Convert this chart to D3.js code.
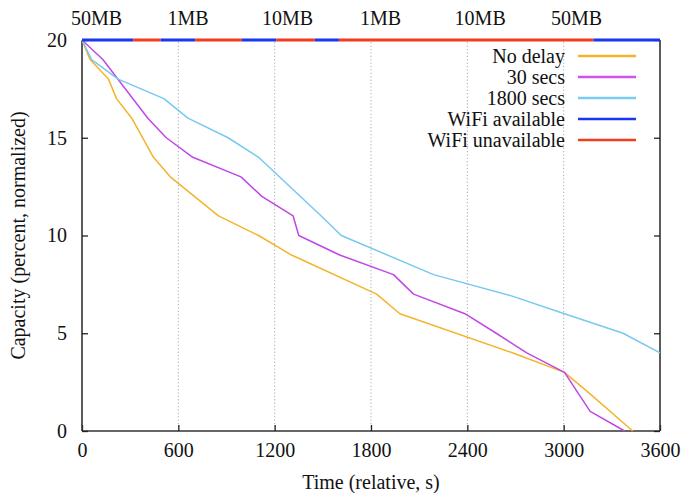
<!DOCTYPE html>
<html><head><meta charset="utf-8">
<script src="https://cdn.jsdelivr.net/npm/d3@7"></script>
<style>
body{margin:0;background:#fff;}
svg text{font-family:"Liberation Serif","DejaVu Serif",serif;fill:#111;}
</style></head>
<body><svg id="chart" width="681" height="493"></svg>
<script>
// ---- data ----
const noDelayT = [0,50,165,215,310,445,550,850,1100,1305,1835,1980,2680,3005,3150,3430];
const noDelayV = [20,19,18,17,16,14,13,11,10,9,7,6,4,3,2,0];
const secs30T = [0,130,410,525,690,990,1120,1315,1350,1605,1940,2065,2385,2580,2770,3005,3165,3380];
const secs30V = [20,19,16,15,14,13,12,11,10,9,8,7,6,5,4,3,1,0];
const secs1800T = [0,60,225,510,660,910,1100,1490,1615,2190,2680,3005,3370,3600];
const secs1800V = [20,19,18,17,16,15,14,11,10,8,6.9,6,5,4];
const wifiStart = [0,320,490,705,995,1210,1450,1600,3185];
const wifiEnd   = [320,490,705,995,1210,1450,1600,3185,3600];
const wifiState = ["available","unavailable","available","unavailable","available","unavailable","available","unavailable","available"];
const sizeLabels = ["50MB","1MB","10MB","1MB","10MB","50MB"];
const sizeLabelT = [90,660,1280,1860,2480,3080];
const xTicks = [0,600,1200,1800,2400,3000,3600];
const yTicks = [0,5,10,15,20];
const legendLabels = ["No delay","30 secs","1800 secs","WiFi available","WiFi unavailable"];

const colors = {"No delay":"#f4b32c","30 secs":"#bf48e6","1800 secs":"#78c8f0",
  "available":"#1a36f0","unavailable":"#f23c1e"};
const legendColors = ["#f4b32c","#cc55ee","#7ccbf2","#1a36f0","#f23c1e"];

// ---- layout ----
const svg = d3.select("#chart");
const m = {l:82, r:21, t:40, b:62};
const W = 681, H = 493;
const x = d3.scaleLinear().domain([0,3600]).range([m.l, W-m.r]);
const y = d3.scaleLinear().domain([0,20]).range([H-m.b, m.t]);
const FONT = '"Liberation Serif","DejaVu Serif",serif';
const fs = 20;

// grid (vertical dotted)
svg.append("g").selectAll("line").data(xTicks.slice(1,-1)).join("line")
  .attr("x1",d=>x(d)).attr("x2",d=>x(d)).attr("y1",y(0)).attr("y2",y(20))
  .attr("stroke","#aaa").attr("stroke-width",1).attr("stroke-dasharray","1.2,2.2");

// axes
const xAxis = d3.axisBottom(x).tickValues(xTicks).tickFormat(d3.format("d")).tickSize(-6).tickPadding(12);
const gx = svg.append("g").attr("transform",`translate(0,${y(0)})`).call(xAxis);
const yAxis = d3.axisLeft(y).tickValues(yTicks).tickFormat(d3.format("d")).tickSize(-6).tickPadding(15);
const gy = svg.append("g").attr("transform",`translate(${x(0)},0)`).call(yAxis);
const yAxisR = d3.axisRight(y).tickValues(yTicks).tickSize(-6).tickFormat("");
const gyr = svg.append("g").attr("transform",`translate(${x(3600)},0)`).call(yAxisR);
[gx,gy,gyr].forEach(g=>{
  g.attr("font-family",FONT).attr("font-size",fs);
  g.select(".domain").attr("stroke","#333").attr("stroke-width",1.6);
  g.selectAll(".tick line").attr("stroke","#222").attr("stroke-width",1.3);
  g.selectAll(".tick text").attr("font-size",fs).attr("font-family",FONT).attr("fill","#111");
});
gx.select(".domain").attr("d",`M${x(0)},0H${x(3600)}`);
gy.select(".domain").attr("d",`M0,${y(0)}V${y(20)}`);
gyr.select(".domain").attr("d",`M0,${y(0)}V${y(20)}`);

// series lines
const series = [
  {name:"No delay", t:noDelayT, v:noDelayV},
  {name:"30 secs", t:secs30T, v:secs30V},
  {name:"1800 secs", t:secs1800T, v:secs1800V}
];
const line = d3.line().x(d=>x(d[0])).y(d=>y(d[1]));
svg.append("g").selectAll("path").data(series).join("path")
  .attr("d",s=>line(s.t.map((t,i)=>[t,s.v[i]])))
  .attr("fill","none").attr("stroke",s=>colors[s.name]).attr("stroke-width",1.5)
  .attr("stroke-linejoin","round");

// wifi bar on top
svg.append("g").selectAll("line").data(wifiStart.map((s,i)=>({s,e:wifiEnd[i],st:wifiState[i]}))).join("line")
  .attr("x1",d=>x(d.s)).attr("x2",d=>x(d.e)).attr("y1",y(20)).attr("y2",y(20))
  .attr("stroke",d=>colors[d.st]).attr("stroke-width",3);

// top size labels
svg.append("g").selectAll("text").data(sizeLabels).join("text")
  .attr("x",(d,i)=>x(sizeLabelT[i])).attr("y",25)
  .attr("text-anchor","middle").attr("font-size",fs).attr("font-family",FONT).text(d=>d);

// axis titles
svg.append("text").attr("x",(x(0)+x(3600))/2).attr("y",489).attr("text-anchor","middle")
  .attr("font-size",fs).attr("font-family",FONT).text("Time (relative, s)");
svg.append("text").attr("transform",`translate(25,${(y(0)+y(20))/2}) rotate(-90)`)
  .attr("text-anchor","middle").attr("font-size",fs).attr("font-family",FONT).text("Capacity (percent, normalized)");

// legend
const lg = svg.append("g");
legendLabels.forEach((lab,i)=>{
  const yy = 56 + i*21;
  lg.append("text").attr("x",565).attr("y",yy).attr("dy","0.35em").attr("text-anchor","end")
    .attr("font-size",fs).attr("font-family",FONT).text(lab);
  lg.append("line").attr("x1",578).attr("x2",636).attr("y1",yy).attr("y2",yy)
    .attr("stroke",legendColors[i]).attr("stroke-width",2.5);
});
</script></body></html>
